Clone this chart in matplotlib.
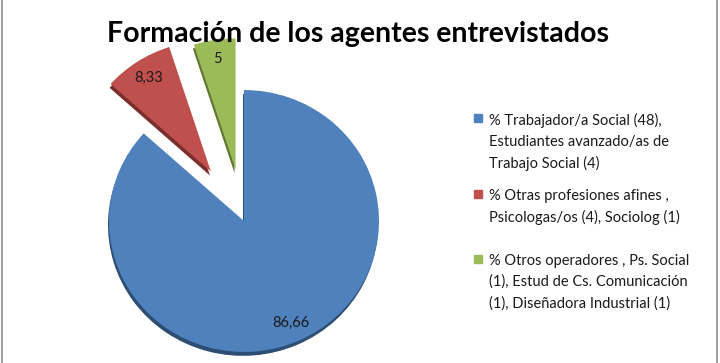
import matplotlib
matplotlib.use("Agg")
import matplotlib.pyplot as plt
from matplotlib.lines import Line2D
from matplotlib.patches import Rectangle

# --- datos ---
valores = [86.66, 8.33, 5]
etiquetas_valor = ["86,66", "8,33", "5"]
leyenda = [
    "% Trabajador/a Social (48),\nEstudiantes avanzado/as de\nTrabajo Social (4)",
    "% Otras profesiones afines ,\nPsicologas/os (4), Sociolog (1)",
    "% Otros operadores , Ps. Social\n(1), Estud de Cs. Comunicación\n(1), Diseñadora Industrial (1)",
]
titulo = "Formación de los agentes entrevistados"

colores = ["#4F81BD", "#C0504D", "#9BBB59"]
sombras = ["#2E4D73", "#7A2F2D", "#60772F"]

W, H = 720, 363
fig = plt.figure(figsize=(W / 100, H / 100), dpi=100)
ax = fig.add_axes([0, 0, 1, 1])

esc_y = 0.97  # leve perspectiva 3D (aplastado vertical)
cx, cy, r = 244, (H - 221) / esc_y, 135
explode = [0, 0.45 * r, 0.4 * r]  # pie usa unidades de datos

# sombra (efecto 3D)
ax.pie(valores, colors=sombras, explode=explode, startangle=90,
       counterclock=False, center=(cx - 1, cy - 4), radius=r)
wedges, texts = ax.pie(valores, colors=colores, explode=explode, startangle=90,
                       counterclock=False, center=(cx, cy), radius=r,
                       labels=etiquetas_valor, labeldistance=0.85,
                       textprops=dict(fontsize=10.5, family="Lato", color="#1a1a1a"))
for t in texts:
    t.set_ha("center")
    t.set_va("center")

ax.set_aspect("auto")
ax.set_xlim(0, W)
ax.set_ylim(0, H / esc_y)
ax.axis("off")

fig.text(358 / W, 1 - 34 / H, titulo, ha="center", va="center",
         fontsize=20.5, fontweight="bold", family="Lato")

# leyenda
y_entradas = [118, 194, 259]
for y, txt, c in zip(y_entradas, leyenda, colores):
    fig.add_artist(Rectangle((474 / W, 1 - (y + 4) / H), 8 / W, 8 / H,
                             transform=fig.transFigure, color=c))
    fig.text(489 / W, 1 - (y - 5) / H, txt, ha="left", va="top",
             fontsize=10.5, family="Lato", linespacing=1.6, color="#1a1a1a")

# bordes laterales
for x in (1.5, 716.5):
    fig.add_artist(Line2D([x / W, x / W], [0, 1], transform=fig.transFigure,
                          color="#8c8c8c", lw=1.2))

fig.savefig("out.png", dpi=100)
